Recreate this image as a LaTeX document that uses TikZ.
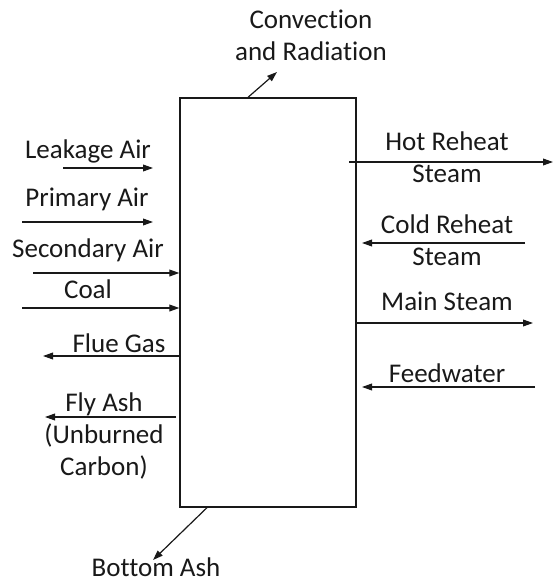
\documentclass[tikz,border=0pt]{standalone}
\usepackage{fontspec}
\setmainfont{Carlito}[Ligatures=NoCommon]
\usetikzlibrary{arrows.meta,positioning,calc}
\definecolor{inkblk}{RGB}{25,25,25}
\tikzset{
  flowarr/.style={-{Triangle[length=5pt,width=3.4pt]}, inkblk, line width=0.6pt},
  blr/.style={draw=inkblk, line width=0.65pt, minimum width=88pt,
              minimum height=204.5pt, inner sep=0pt},
  lbl/.style={font=\fontsize{13.5}{16}\selectfont, align=center, text=inkblk,
              inner sep=0pt, anchor=base},
}

\begin{document}
\begin{tikzpicture}[x=0.5pt,y=-0.5pt]
    \useasboundingbox (0,0) rectangle (559,582);
    \node[blr] (boiler) at (268,302.5) {};
    % inputs and outputs on the left
    \node[lbl] (leak) at (88,159) {Leakage Air};
    \node[lbl] (prim) at (87,207) {Primary Air};
    \node[lbl] (sec) at (88,257) {Secondary Air};
    \node[lbl] (coal) at (88,299) {Coal};
    \node[lbl] (flue) at (119,352) {Flue Gas};
    \node[lbl] (fly) at (104,475) {Fly Ash\\(Unburned\\Carbon)};
    \coordinate (leakS) at (63,168);  \coordinate (leakE) at (153,168);
    \coordinate (primS) at (22,222);  \coordinate (primE) at (153,222);
    \coordinate (secS) at (33,273);
    \coordinate (coalS) at (22,308);
    \coordinate (flueE) at (43,356);
    \coordinate (flyS) at (176,417);  \coordinate (flyE) at (45,417);
    \draw[flowarr] (leakS) -- (leakE);
    \draw[flowarr] (primS) -- (primE);
    \draw[flowarr] (secS) -- (secS -| boiler.west);
    \draw[flowarr] (coalS) -- (coalS -| boiler.west);
    \draw[flowarr] (flueE -| boiler.west) -- (flueE);
    \draw[flowarr] (flyS) -- (flyE);
    % steam side on the right
    \node[lbl] (hrh) at (447,183) {Hot Reheat\\Steam};
    \node[lbl] (crh) at (447,265) {Cold Reheat\\Steam};
    \node[lbl] (mst) at (447,310) {Main Steam};
    \node[lbl] (fw) at (447,382) {Feedwater};
    \coordinate (hrhS) at (349,162); \coordinate (hrhE) at (553,162);
    \coordinate (crhS) at (525,243); \coordinate (crhE) at (362,243);
    \coordinate (mstE) at (533,323);
    \coordinate (fwS) at (535,387);  \coordinate (fwE) at (362,387);
    \draw[flowarr] (hrhS) -- (hrhE);
    \draw[flowarr] (crhS) -- (crhE);
    \draw[flowarr] (mstE -| boiler.east) -- (mstE);
    \draw[flowarr] (fwS) -- (fwE);
    % top and bottom
    \node[lbl] (conv) at (311,61) {Convection\\and Radiation};
    \node[lbl] (btm) at (156,576) {Bottom Ash};
    \coordinate (convS) at (248,0); \coordinate (convE) at (277,72);
    \coordinate (btmS) at (207,0);  \coordinate (btmE) at (153,560);
    \draw[flowarr] (convS |- boiler.north) -- (convE);
    \draw[flowarr] (btmS |- boiler.south) -- (btmE);
\end{tikzpicture}
\end{document}
